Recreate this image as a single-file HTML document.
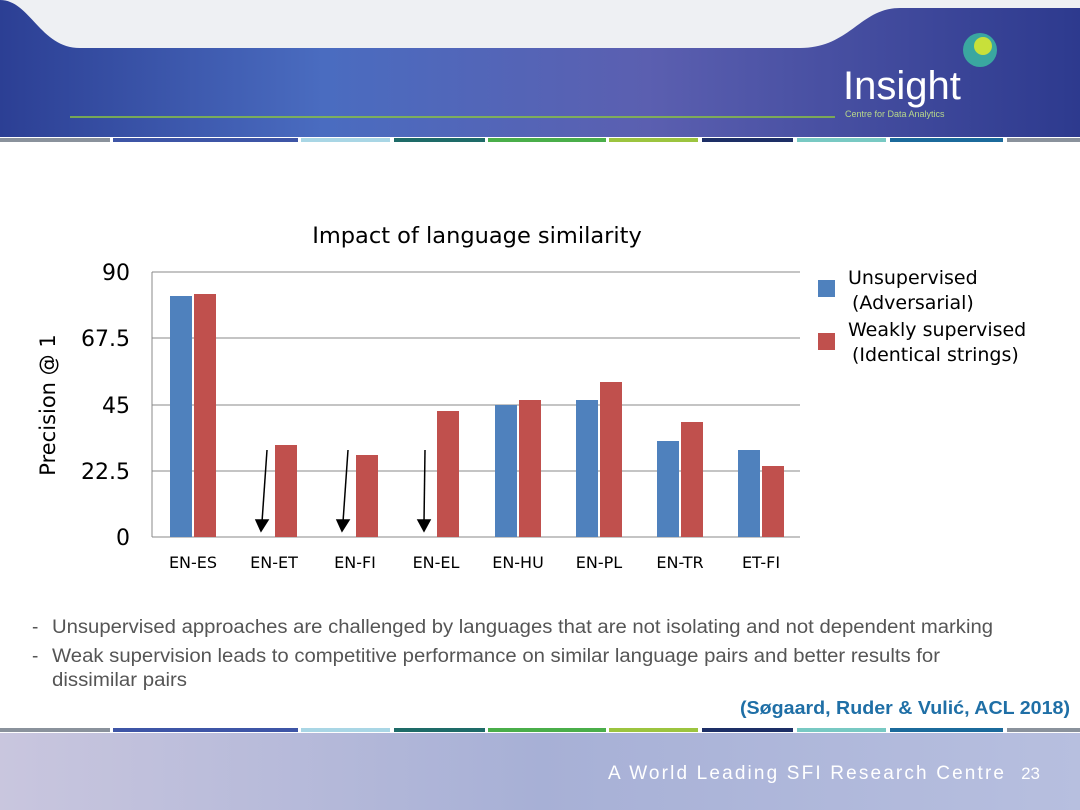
<!DOCTYPE html>
<html><head><meta charset="utf-8"><style>
body{margin:0;width:1080px;height:810px;overflow:hidden;background:#fff;font-family:"Liberation Sans",sans-serif;position:relative}
.abs{position:absolute}
</style></head><body>
<svg class="abs" style="left:0;top:0" width="1080" height="810">
<defs>
<linearGradient id="hd" x1="0" x2="1" y1="0" y2="0">
<stop offset="0" stop-color="#2c3f94"/><stop offset="0.3" stop-color="#4a6cc0"/><stop offset="0.6" stop-color="#5b5fb0"/><stop offset="1" stop-color="#2d3a8e"/></linearGradient>
<linearGradient id="ft" x1="0" x2="1"><stop offset="0" stop-color="#c9c6de"/><stop offset="0.5" stop-color="#a7b0d6"/><stop offset="1" stop-color="#b7bfdf"/></linearGradient>
</defs>
<rect x="0" y="0" width="1080" height="137" fill="url(#hd)"/>
<path d="M0,0 L1080,0 L1080,8 L900,8 C860,8 850,48 800,48 L80,48 C40,48 30,0 0,0Z" fill="#eef0f3"/>
<line x1="70" y1="117" x2="835" y2="117" stroke="#8cc63f" stroke-width="1.5"/>
<circle cx="980" cy="50" r="17" fill="#3aa7a0"/><circle cx="983" cy="46" r="9" fill="#c8e03a"/>
<text x="843" y="99" font-size="40" fill="#fff" font-family="Liberation Sans Narrow, Liberation Sans, sans-serif">Insight</text>
<text x="845" y="117" font-size="9" fill="#b8d88a">Centre for Data Analytics</text>
<g>
<rect x="0" y="138" width="110" height="4" fill="#8a929c"/><rect x="113" y="138" width="185" height="4" fill="#3e55a6"/><rect x="301" y="138" width="89" height="4" fill="#a9d6e5"/><rect x="394" y="138" width="91" height="4" fill="#1e6b68"/><rect x="488" y="138" width="118" height="4" fill="#4aae4a"/><rect x="609" y="138" width="89" height="4" fill="#9cc43f"/><rect x="702" y="138" width="91" height="4" fill="#1d2f66"/><rect x="797" y="138" width="89" height="4" fill="#78c9c3"/><rect x="890" y="138" width="113" height="4" fill="#1b6a9b"/><rect x="1007" y="138" width="73" height="4" fill="#8a929c"/>
</g>
<g transform="translate(0,590)">
<rect x="0" y="138" width="110" height="4" fill="#8a929c"/><rect x="113" y="138" width="185" height="4" fill="#3e55a6"/><rect x="301" y="138" width="89" height="4" fill="#a9d6e5"/><rect x="394" y="138" width="91" height="4" fill="#1e6b68"/><rect x="488" y="138" width="118" height="4" fill="#4aae4a"/><rect x="609" y="138" width="89" height="4" fill="#9cc43f"/><rect x="702" y="138" width="91" height="4" fill="#1d2f66"/><rect x="797" y="138" width="89" height="4" fill="#78c9c3"/><rect x="890" y="138" width="113" height="4" fill="#1b6a9b"/><rect x="1007" y="138" width="73" height="4" fill="#8a929c"/>
</g>
<rect x="0" y="733" width="1080" height="77" fill="url(#ft)"/>
<text x="608" y="779" font-size="19" fill="#fff" textLength="396" lengthAdjust="spacing">A World Leading SFI Research Centre</text>
<text x="1040" y="779" font-size="17" fill="#fff" text-anchor="end">23</text>
<!-- chart -->
<g stroke="#888" stroke-width="1">
<line x1="152" y1="272" x2="800" y2="272"/><line x1="152" y1="338" x2="800" y2="338"/><line x1="152" y1="405" x2="800" y2="405"/><line x1="152" y1="471" x2="800" y2="471"/><line x1="152" y1="537" x2="800" y2="537"/><line x1="152" y1="272" x2="152" y2="537"/>
</g>
<g font-size="22" fill="#000" text-anchor="end" font-family="DejaVu Sans, sans-serif">
<text x="130" y="280">90</text><text x="130" y="346">67.5</text><text x="130" y="413">45</text><text x="130" y="479">22.5</text><text x="130" y="545">0</text>
</g>
<text transform="translate(55,405) rotate(-90)" font-size="21" text-anchor="middle" font-family="DejaVu Sans, sans-serif">Precision @ 1</text>
<text x="477" y="243" font-size="22.5" text-anchor="middle" font-family="DejaVu Sans, sans-serif">Impact of language similarity</text>
<g fill="#4f81bd">
<rect x="170" y="296" width="22" height="241"/><rect x="495" y="405" width="22" height="132"/><rect x="576" y="400" width="22" height="137"/><rect x="657" y="441" width="22" height="96"/><rect x="738" y="450" width="22" height="87"/>
</g>
<g fill="#c0504d">
<rect x="194" y="294" width="22" height="243"/><rect x="275" y="445" width="22" height="92"/><rect x="356" y="455" width="22" height="82"/><rect x="437" y="411" width="22" height="126"/><rect x="519" y="400" width="22" height="137"/><rect x="600" y="382" width="22" height="155"/><rect x="681" y="422" width="22" height="115"/><rect x="762" y="466" width="22" height="71"/>
</g>
<g font-size="16" text-anchor="middle" font-family="DejaVu Sans, sans-serif">
<text x="193" y="568">EN-ES</text><text x="274" y="568">EN-ET</text><text x="355" y="568">EN-FI</text><text x="436" y="568">EN-EL</text><text x="518" y="568">EN-HU</text><text x="599" y="568">EN-PL</text><text x="680" y="568">EN-TR</text><text x="761" y="568">ET-FI</text>
</g>
<g stroke="#000" stroke-width="1.5" fill="#000">
<line x1="267" y1="450" x2="262" y2="522"/><polygon points="256,520 268,520 261,531"/>
<line x1="348" y1="450" x2="343" y2="522"/><polygon points="337,520 349,520 342,531"/>
<line x1="425" y1="450" x2="424" y2="522"/><polygon points="418,520 430,520 424,531"/>
</g>
<rect x="818" y="280" width="17" height="17" fill="#4f81bd"/>
<rect x="818" y="333" width="17" height="17" fill="#c0504d"/>
<g font-size="19" font-family="DejaVu Sans, sans-serif">
<text x="848" y="284">Unsupervised</text><text x="852" y="309">(Adversarial)</text>
<text x="848" y="336">Weakly supervised</text><text x="852" y="361">(Identical strings)</text>
</g>
<g font-size="19" fill="#555">
<text x="32" y="633">-</text><text x="52" y="633" textLength="941" lengthAdjust="spacingAndGlyphs">Unsupervised approaches are challenged by languages that are not isolating and not dependent marking</text>
<text x="32" y="662">-</text><text x="52" y="662" textLength="888" lengthAdjust="spacingAndGlyphs">Weak supervision leads to competitive performance on similar language pairs and better results for</text>
<text x="52" y="686" textLength="135" lengthAdjust="spacingAndGlyphs">dissimilar pairs</text>
</g>
<text x="740" y="714" font-size="18" font-weight="bold" fill="#1f6fa6" textLength="330" lengthAdjust="spacingAndGlyphs">(Søgaard, Ruder &amp; Vulić, ACL 2018)</text>
</svg>
</body></html>
